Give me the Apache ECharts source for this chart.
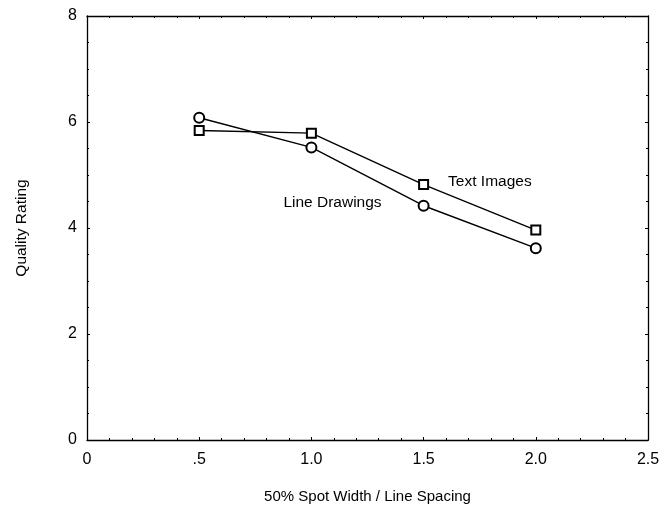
<!DOCTYPE html>
<html>
<head>
<meta charset="utf-8">
<script src="https://cdn.jsdelivr.net/npm/echarts@6/dist/echarts.min.js"></script>
<style>html,body{margin:0;padding:0;background:#fff}#c{width:670px;height:506px}</style>
</head>
<body>
<div id="c"></div>
<script>
const xValues = [0.5, 1.0, 1.5, 2.0];
const lineDrawings = [6.08, 5.52, 4.42, 3.62];
const textImages = [5.84, 5.79, 4.82, 3.96];
const xTickLabels = {0: '0', 0.5: '.5', 1: '1.0', 1.5: '1.5', 2: '2.0', 2.5: '2.5'};
const seriesNames = ['Line Drawings', 'Text Images'];
const xTitle = '50% Spot Width / Line Spacing';
const yTitle = 'Quality Rating';

const FONT = "'Liberation Sans', Arial, sans-serif";
const chart = echarts.init(document.getElementById('c'), null, {renderer: 'canvas'});

function axisCommon(extra) {
  return Object.assign({
    axisLine: {show: true, onZero: false, lineStyle: {color: '#000', width: 1.3}},
    axisTick: {show: true, inside: true, length: 3, lineStyle: {color: '#000', width: 1}},
    minorTick: {show: true, length: 2, lineStyle: {color: '#000', width: 1}},
    splitLine: {show: false}
  }, extra);
}

chart.setOption({
  animation: false,
  backgroundColor: '#fff',
  grid: {left: 87, right: 22, top: 16, bottom: 66, containLabel: false, outerBoundsMode: 'none'},
  xAxis: [
    axisCommon({
      type: 'value', min: 0, max: 2.5, interval: 0.5, position: 'bottom',
      minorTick: {show: true, splitNumber: 5, length: 2, lineStyle: {color: '#000'}},
      axisLabel: {color: '#000', fontFamily: FONT, fontSize: 16, margin: 12,
        formatter: v => xTickLabels[Math.round(v * 10) / 10] ?? ''},
      name: xTitle, nameLocation: 'middle', nameGap: 49,
      nameTextStyle: {color: '#000', fontFamily: FONT, fontSize: 15}
    }),
    axisCommon({
      type: 'value', min: 0, max: 2.5, interval: 0.5, position: 'top',
      minorTick: {show: true, splitNumber: 5, length: 2, lineStyle: {color: '#000'}},
      axisLabel: {show: false}
    })
  ],
  yAxis: [
    axisCommon({
      type: 'value', min: 0, max: 8, interval: 2, position: 'left',
      minorTick: {show: true, splitNumber: 4, length: 2, lineStyle: {color: '#000'}},
      axisLabel: {color: '#000', fontFamily: FONT, fontSize: 16, margin: 10},
      name: yTitle, nameLocation: 'middle', nameGap: 57, nameRotate: 90,
      nameTextStyle: {color: '#000', fontFamily: FONT, fontSize: 15.5}
    }),
    axisCommon({
      type: 'value', min: 0, max: 8, interval: 2, position: 'right',
      minorTick: {show: true, splitNumber: 4, length: 2, lineStyle: {color: '#000'}},
      axisLabel: {show: false}
    })
  ],
  series: [
    {
      name: seriesNames[0], type: 'line',
      data: xValues.map((x, i) => {
        const d = {value: [x, lineDrawings[i]]};
        if (i === 2) d.label = {show: true, position: 'left', distance: 36, offset: [0, -3],
          formatter: seriesNames[0], color: '#000', fontFamily: FONT, fontSize: 15.5};
        return d;
      }),
      symbol: 'emptyCircle', symbolSize: 10,
      lineStyle: {color: '#000', width: 1.4},
      itemStyle: {color: '#000', borderColor: '#000', borderWidth: 1.4}
    },
    {
      name: seriesNames[1], type: 'line',
      data: xValues.map((x, i) => {
        const d = {value: [x, textImages[i]]};
        if (i === 2) d.label = {show: true, position: 'right', distance: 19, offset: [0, -3],
          formatter: seriesNames[1], color: '#000', fontFamily: FONT, fontSize: 15.5};
        return d;
      }),
      symbol: 'emptyRect', symbolSize: 9,
      lineStyle: {color: '#000', width: 1.4},
      itemStyle: {color: '#000', borderColor: '#000', borderWidth: 1.4}
    }
  ]
});
</script>
</body>
</html>
